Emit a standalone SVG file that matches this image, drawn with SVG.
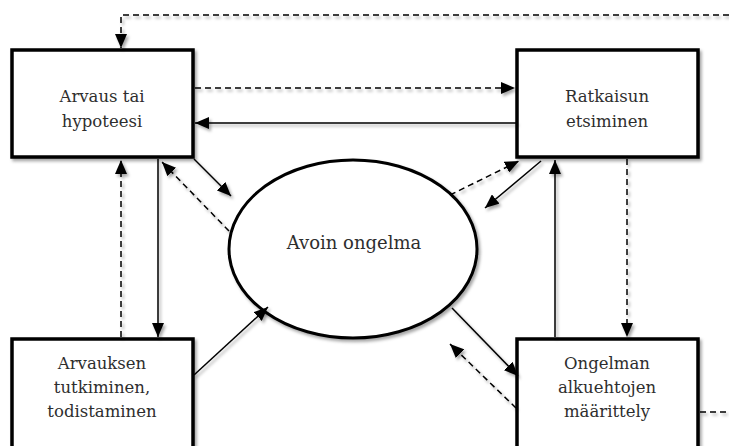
<svg xmlns="http://www.w3.org/2000/svg" width="729" height="446" viewBox="0 0 729 446">
<defs>
<filter id="sh" x="-10%" y="-10%" width="130%" height="130%">
<feDropShadow dx="2" dy="2.5" stdDeviation="1.6" flood-color="#000" flood-opacity="0.35"/>
</filter>
<marker id="ah" viewBox="0 0 14 12" refX="14" refY="6" markerWidth="14" markerHeight="12" markerUnits="userSpaceOnUse" orient="auto">
<path d="M0,0 L14,6 L0,12 z" fill="#000"/>
</marker>
</defs>
<style>
.box{fill:#fff;stroke:#000;stroke-width:3.5;filter:url(#sh)}
.ell{fill:#fff;stroke:#000;stroke-width:3;filter:url(#sh)}
.t{font-family:"DejaVu Serif","Liberation Serif",serif;font-size:16.5px;fill:#2e2e2e;text-anchor:middle}
.tc{font-family:"DejaVu Serif","Liberation Serif",serif;font-size:18px;fill:#2e2e2e;text-anchor:middle}
.c{fill:none;stroke:#000;stroke-width:1.5}
.d{stroke-dasharray:6,4}
.a{marker-end:url(#ah)}
#connectors{filter:url(#sh)}
</style>
<g id="n-arvaus">
<rect class="box" x="12" y="50" width="181" height="107"/>
<text class="t" x="102" y="102">Arvaus tai</text>
<text class="t" x="102" y="127">hypoteesi</text>
</g>
<g id="n-ratkaisun">
<rect class="box" x="517" y="50" width="181" height="107"/>
<text class="t" x="607" y="102">Ratkaisun</text>
<text class="t" x="607" y="127">etsiminen</text>
</g>
<g id="n-avoin">
<ellipse class="ell" cx="353" cy="249" rx="124" ry="89"/>
<text class="tc" x="354" y="249">Avoin ongelma</text>
</g>
<g id="n-tutkiminen">
<rect class="box" x="12" y="339" width="181" height="115"/>
<text class="t" x="102" y="369">Arvauksen</text>
<text class="t" x="102" y="393">tutkiminen,</text>
<text class="t" x="102" y="417">todistaminen</text>
</g>
<g id="n-ongelman">
<rect class="box" x="517" y="339" width="181" height="115"/>
<text class="t" x="607" y="369">Ongelman</text>
<text class="t" x="607" y="393">alkuehtojen</text>
<text class="t" x="607" y="417">määrittely</text>
</g>
<g id="connectors">
<path class="c d a" d="M729,15 H121 V48"/>
<path class="c d a" d="M195,88 H515"/>
<path class="c a" d="M517,123 H195"/>
<path class="c d a" d="M121,337 V160"/>
<path class="c a" d="M158,159 V337"/>
<path class="c a" d="M194,159 L231,196"/>
<path class="c d a" d="M229,231 L162,162"/>
<path class="c d a" d="M450,195 L519,161"/>
<path class="c a" d="M541,161 L485,208"/>
<path class="c a" d="M555,337 V160"/>
<path class="c d a" d="M627,159 V337"/>
<path class="c a" d="M194,375 L268,307"/>
<path class="c a" d="M452,308 L518,376"/>
<path class="c d a" d="M516,408 L450,344"/>
<path class="c d" d="M700,412 H729"/>
</g>
</svg>
